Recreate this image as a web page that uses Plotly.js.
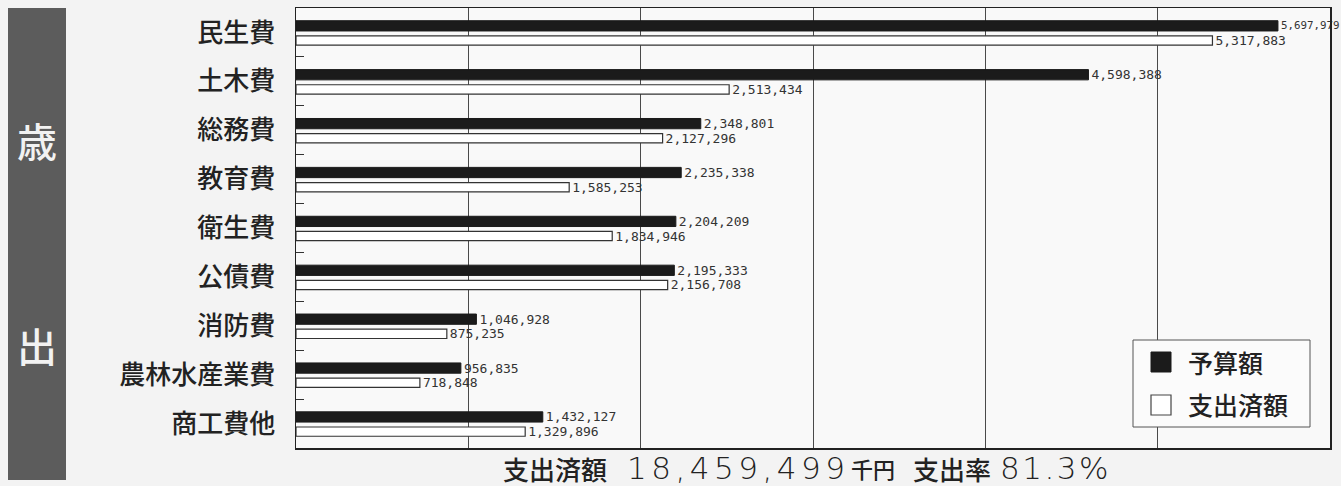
<!DOCTYPE html>
<html>
<head>
<meta charset="utf-8">
<script src="https://cdn.plot.ly/plotly-3.0.1.min.js"></script>
<style>
  html, body { margin: 0; padding: 0; background: #f3f3f3; }
  #chart { width: 1341px; height: 486px; }
</style>
</head>
<body>
<div id="chart"></div>
<script>
const categories = ['民生費', '土木費', '総務費', '教育費', '衛生費', '公債費', '消防費', '農林水産業費', '商工費他'];
const budget = [5697979, 4598388, 2348801, 2235338, 2204209, 2195333, 1046928, 956835, 1432127];
const spent = [5317883, 2513434, 2127296, 1585253, 1834946, 2156708, 875235, 718848, 1329896];
const seriesNames = ['予算額', '支出済額'];
const sideLabel = ['歳', '出'];
const summaryParts = ['支出済額', '18,459,499', '千円', '支出率', '81.3%'];

const L = 296, R = 11, T = 8, B = 38, W = 1341, H = 486;
const pw = W - L - R, ph = H - T - B;
const px = x => (x - L) / pw;
const py = y => (H - B - y) / ph;

const mono = 'DejaVu Sans Mono, monospace';
// the longest label sits at the right edge of the page, so it is set a little smaller
const budgetLabelSizes = budget.map((v, i) => i === 0 ? 10.8 : 13);

const traces = [
  {
    type: 'bar', orientation: 'h', name: seriesNames[0],
    y: categories, x: budget,
    width: 0.21, offset: -0.24,
    marker: { color: '#1b1b1b', line: { color: '#1b1b1b', width: 1 } },
    texttemplate: '%{x:,}', textposition: 'outside', cliponaxis: false,
    textfont: { family: mono, size: budgetLabelSizes, color: '#333' },
    constraintext: 'none', showlegend: false, hoverinfo: 'x+y'
  },
  {
    type: 'bar', orientation: 'h', name: seriesNames[1],
    y: categories, x: spent,
    width: 0.19, offset: 0.07,
    marker: { color: '#ffffff', line: { color: '#333', width: 1.2 } },
    texttemplate: '%{x:,}', textposition: 'outside', cliponaxis: false,
    textfont: { family: mono, size: 13, color: '#333' },
    constraintext: 'none', showlegend: false, hoverinfo: 'x+y'
  }
];

const cjk = 'Noto Sans CJK JP, sans-serif';
const numFont = 'DejaVu Sans, sans-serif';
const midY = py(468);

const annotations = [
  { text: sideLabel[0], x: px(37), y: py(140), font: { family: cjk, size: 40, color: '#f2f2f2', weight: 500 } },
  { text: sideLabel[1], x: px(37), y: py(345), font: { family: cjk, size: 40, color: '#f2f2f2', weight: 500 } },
  { text: seriesNames[0], x: px(1186), y: py(362), xanchor: 'left', font: { family: cjk, size: 25, color: '#222', weight: 500 } },
  { text: seriesNames[1], x: px(1186), y: py(404), xanchor: 'left', font: { family: cjk, size: 25, color: '#222', weight: 500 } },
  { text: summaryParts[0], x: px(501), y: midY, xanchor: 'left', font: { family: cjk, size: 26, color: '#222', weight: 500 } },
  { text: '<span style="letter-spacing:4.5px">' + summaryParts[1] + '</span>', x: px(625), y: midY, xanchor: 'left', font: { family: numFont, size: 31, color: '#222', weight: 300 } },
  { text: summaryParts[2], x: px(849), y: midY, xanchor: 'left', font: { family: cjk, size: 22, color: '#222', weight: 500 } },
  { text: summaryParts[3], x: px(911), y: midY, xanchor: 'left', font: { family: cjk, size: 26, color: '#222', weight: 500 } },
  { text: '<span style="letter-spacing:2.5px">' + summaryParts[4] + '</span>', x: px(998), y: midY, xanchor: 'left', font: { family: numFont, size: 31, color: '#222', weight: 300 } }
].map(a => Object.assign({ xref: 'paper', yref: 'paper', showarrow: false, xanchor: 'center', yanchor: 'middle' }, a));

const shapes = [
  { type: 'rect', xref: 'paper', yref: 'paper', x0: px(8), x1: px(66), y0: py(480), y1: py(8), fillcolor: '#5c5c5c', line: { width: 0 }, layer: 'below' },
  { type: 'rect', xref: 'paper', yref: 'paper', x0: px(1133), x1: px(1310), y0: py(427), y1: py(340), fillcolor: '#fbfbfb', line: { color: '#555', width: 1 } },
  { type: 'rect', xref: 'paper', yref: 'paper', x0: px(1151), x1: px(1171), y0: py(372), y1: py(352), fillcolor: '#1b1b1b', line: { color: '#1b1b1b', width: 1 } },
  { type: 'rect', xref: 'paper', yref: 'paper', x0: px(1151), x1: px(1171), y0: py(415), y1: py(395), fillcolor: '#ffffff', line: { color: '#444', width: 1.2 } }
];

const layout = {
  width: W, height: H,
  margin: { l: L, r: R, t: T, b: B, pad: 0 },
  paper_bgcolor: '#f3f3f3',
  plot_bgcolor: '#f9f9f9',
  showlegend: false,
  barmode: 'group',
  xaxis: {
    range: [0, 6000000], dtick: 1000000, tick0: 0,
    showticklabels: false, ticks: '',
    showgrid: true, gridcolor: '#4a4a4a', gridwidth: 1,
    zeroline: false,
    showline: true, linecolor: '#222', linewidth: 1.5, mirror: true,
    fixedrange: true
  },
  yaxis: {
    type: 'category', autorange: 'reversed',
    ticks: 'inside', ticklen: 8, tickwidth: 1, tickcolor: '#333',
    tickson: 'boundaries', showgrid: false,
    showline: true, linecolor: '#222', linewidth: 1.5, mirror: true,
    tickfont: { family: cjk, size: 26, color: '#222', weight: 500 },
    ticklabelstandoff: 14,
    fixedrange: true
  },
  annotations: annotations,
  shapes: shapes
};

Plotly.newPlot('chart', traces, layout, { displayModeBar: false, staticPlot: true });
</script>
</body>
</html>
